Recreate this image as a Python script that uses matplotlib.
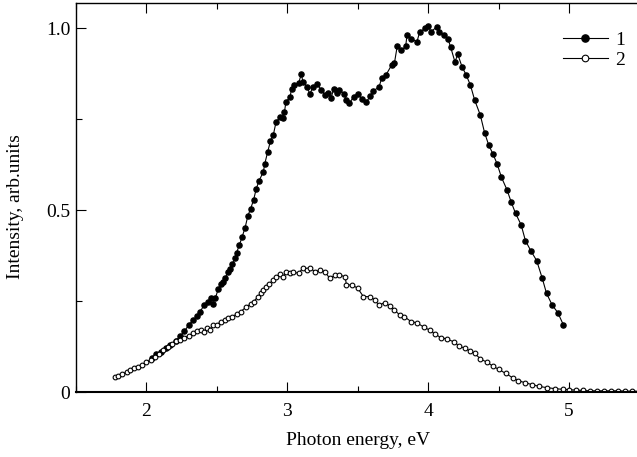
import matplotlib
matplotlib.use("Agg")
import matplotlib.pyplot as plt
from matplotlib.ticker import MultipleLocator

plt.rcParams['font.family'] = ['Liberation Serif', 'DejaVu Serif']
plt.rcParams['font.size'] = 14

# curve 1 (filled circles)
energy1 = [2.04, 2.07, 2.10, 2.14, 2.17, 2.21, 2.24, 2.27, 2.30, 2.33,
           2.36, 2.38, 2.41, 2.44, 2.46, 2.47, 2.49, 2.51, 2.53, 2.54,
           2.56, 2.58, 2.59, 2.61, 2.63, 2.64, 2.66, 2.68, 2.70, 2.72,
           2.74, 2.76, 2.78, 2.80, 2.83, 2.84, 2.86, 2.88, 2.90, 2.92,
           2.95, 2.97, 2.98, 2.99, 3.02, 3.03, 3.05, 3.08, 3.10, 3.11,
           3.14, 3.16, 3.18, 3.21, 3.24, 3.27, 3.29, 3.31, 3.33, 3.35,
           3.37, 3.40, 3.42, 3.44, 3.47, 3.50, 3.53, 3.56, 3.59, 3.61,
           3.65, 3.67, 3.70, 3.74, 3.76, 3.78, 3.81, 3.84, 3.85, 3.88,
           3.92, 3.94, 3.98, 4.00, 4.02, 4.06, 4.08, 4.11, 4.14, 4.16,
           4.19, 4.21, 4.24, 4.27, 4.30, 4.33, 4.37, 4.40, 4.43, 4.46,
           4.49, 4.52, 4.56, 4.59, 4.62, 4.66, 4.69, 4.73, 4.77, 4.81,
           4.84, 4.88, 4.92, 4.96]
intensity1 = [0.095, 0.105, 0.112, 0.122, 0.130, 0.142, 0.155, 0.168, 0.185, 0.198,
              0.210, 0.221, 0.240, 0.248, 0.258, 0.242, 0.260, 0.284, 0.298, 0.304,
              0.315, 0.330, 0.340, 0.352, 0.368, 0.384, 0.405, 0.428, 0.452, 0.485,
              0.505, 0.528, 0.560, 0.582, 0.606, 0.628, 0.660, 0.690, 0.706, 0.743,
              0.757, 0.753, 0.771, 0.798, 0.812, 0.835, 0.844, 0.849, 0.876, 0.853,
              0.840, 0.819, 0.838, 0.847, 0.832, 0.817, 0.823, 0.808, 0.835, 0.823,
              0.832, 0.821, 0.803, 0.794, 0.812, 0.821, 0.805, 0.798, 0.814, 0.829,
              0.838, 0.863, 0.872, 0.899, 0.904, 0.951, 0.940, 0.951, 0.982, 0.972,
              0.963, 0.991, 1.000, 1.006, 0.991, 1.004, 0.991, 0.982, 0.972, 0.948,
              0.908, 0.929, 0.895, 0.872, 0.844, 0.803, 0.762, 0.714, 0.679, 0.655,
              0.627, 0.591, 0.556, 0.522, 0.492, 0.460, 0.417, 0.388, 0.362, 0.313,
              0.272, 0.240, 0.219, 0.185]

# curve 2 (open circles)
energy2 = [1.78, 1.80, 1.83, 1.86, 1.88, 1.91, 1.94, 1.97, 2.00, 2.03,
           2.06, 2.09, 2.12, 2.15, 2.18, 2.21, 2.24, 2.27, 2.30, 2.33,
           2.36, 2.39, 2.41, 2.43, 2.45, 2.47, 2.50, 2.53, 2.56, 2.58,
           2.61, 2.64, 2.67, 2.71, 2.74, 2.76, 2.79, 2.81, 2.83, 2.85,
           2.87, 2.90, 2.92, 2.95, 2.97, 2.99, 3.02, 3.04, 3.08, 3.11,
           3.14, 3.16, 3.20, 3.23, 3.27, 3.30, 3.34, 3.37, 3.41, 3.42,
           3.46, 3.50, 3.54, 3.59, 3.62, 3.65, 3.69, 3.73, 3.76, 3.80,
           3.83, 3.88, 3.92, 3.97, 4.01, 4.05, 4.09, 4.13, 4.18, 4.22,
           4.26, 4.30, 4.33, 4.37, 4.42, 4.46, 4.50, 4.55, 4.60, 4.64,
           4.69, 4.74, 4.79, 4.84, 4.90, 4.96, 5.00, 5.05, 5.10, 5.15,
           5.20, 5.25, 5.30, 5.35, 5.40, 5.45, 5.50]
intensity2 = [0.043, 0.046, 0.050, 0.056, 0.060, 0.066, 0.070, 0.075, 0.082, 0.090,
              0.098, 0.106, 0.116, 0.124, 0.132, 0.140, 0.145, 0.150, 0.156, 0.162,
              0.168, 0.172, 0.166, 0.178, 0.172, 0.185, 0.186, 0.194, 0.198, 0.203,
              0.208, 0.215, 0.222, 0.235, 0.243, 0.249, 0.262, 0.272, 0.280, 0.290,
              0.298, 0.308, 0.316, 0.324, 0.318, 0.331, 0.328, 0.331, 0.327, 0.341,
              0.336, 0.341, 0.331, 0.336, 0.331, 0.313, 0.322, 0.322, 0.318, 0.295,
              0.295, 0.286, 0.263, 0.263, 0.254, 0.240, 0.246, 0.237, 0.226, 0.212,
              0.208, 0.194, 0.191, 0.179, 0.171, 0.160, 0.150, 0.147, 0.139, 0.127,
              0.121, 0.113, 0.107, 0.092, 0.082, 0.072, 0.063, 0.052, 0.040, 0.032,
              0.026, 0.021, 0.016, 0.013, 0.010, 0.008, 0.007, 0.006, 0.005, 0.004,
              0.004, 0.004, 0.004, 0.004, 0.003, 0.003, 0.003]

fig = plt.figure(figsize=(6.37, 4.57), dpi=100)
ax = fig.add_axes([76/637, 1 - 392.3/457, (639.5 - 76)/637, (392.3 - 3)/457])

ax.plot(energy1, intensity1, '-o', color='black', lw=0.8, ms=3.7,
        mfc='black', mec='black', label='1')
ax.plot(energy2, intensity2, '-o', color='black', lw=0.8, ms=3.4,
        mfc='white', mec='black', mew=0.8, label='2')

ax.set_xlim(1.5, 5.5)
ax.set_ylim(0, 1.07)
ax.xaxis.set_major_locator(MultipleLocator(1))
ax.xaxis.set_minor_locator(MultipleLocator(0.5))
ax.yaxis.set_minor_locator(MultipleLocator(0.25))
ax.set_yticks([0, 0.5, 1.0])
ax.set_yticklabels(['0', '0.5', '1.0'])

ax.tick_params(which='both', direction='in', top=True, right=False, width=0.8)
ax.tick_params(which='major', length=7)
ax.tick_params(which='minor', length=4.5)
ax.tick_params(axis='x', pad=8)
ax.tick_params(axis='y', pad=4)

for s in ax.spines.values():
    s.set_linewidth(1.0)
ax.spines['bottom'].set_linewidth(1.5)

ax.set_xlabel('Photon energy, eV', labelpad=8)
ax.set_ylabel('Intensity, arb.units')
ax.yaxis.set_label_coords(-0.092, 0.476)

ax.legend(loc='upper left', bbox_to_anchor=(563/637, 1 - 31/457),
          bbox_transform=fig.transFigure, frameon=False, borderpad=0,
          handlelength=2.3, handletextpad=0.4, labelspacing=0.15,
          borderaxespad=0, markerscale=1.4)

fig.savefig('out.png', dpi=100)
